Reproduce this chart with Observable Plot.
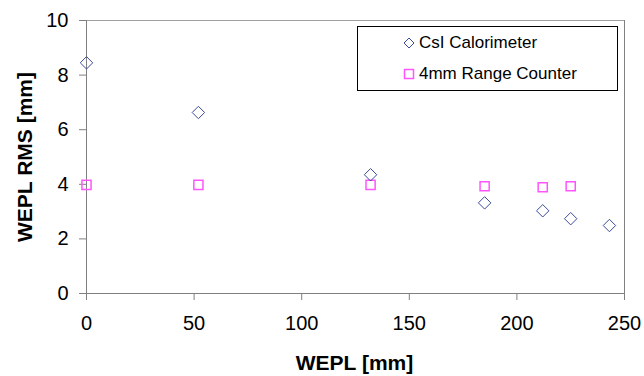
<!DOCTYPE html>
<html>
<head>
<meta charset="utf-8">
<script src="https://cdn.jsdelivr.net/npm/d3@7"></script>
<script src="https://cdn.jsdelivr.net/npm/@observablehq/plot@0.6"></script>
<style>
body { margin: 0; background: #fff; }
#wrap { position: relative; width: 644px; height: 376px; font-family: "Liberation Sans", Arial, sans-serif; }
#legend { position: absolute; left: 357px; top: 26px; width: 259px; height: 63px; border: 1px solid #000; background: #fff; }
.entry { position: absolute; left: 45px; font-size: 17px; line-height: 20px; display: flex; align-items: center; }
.entry svg { margin-right: 4px; }
</style>
</head>
<body>
<div id="wrap"></div>
<script>
const xTicks = [0, 50, 100, 150, 200, 250];
const yTicks = [0, 2, 4, 6, 8, 10];
const seriesNames = ["CsI Calorimeter", "4mm Range Counter"];
const weplCsI = [0, 52, 132, 185, 212, 225, 243];
const rmsCsI = [8.45, 6.63, 4.35, 3.32, 3.03, 2.74, 2.49];
const weplRC = [0, 52, 132, 185, 212, 225];
const rmsRC = [3.98, 3.98, 3.98, 3.93, 3.89, 3.93];

const csi = weplCsI.map((x, i) => ({x, y: rmsCsI[i]}));
const rc = weplRC.map((x, i) => ({x, y: rmsRC[i]}));

const blue = "#3a4a9c";
const pink = "#ff55ff";
const gray = "#808080";

const chart = Plot.plot({
  width: 644, height: 376,
  marginLeft: 86, marginRight: 20, marginTop: 20, marginBottom: 83,
  style: {fontFamily: "'Liberation Sans', Arial, sans-serif", background: "white", color: "black"},
  x: {domain: [0, 250]},
  y: {domain: [0, 10]},
  marks: [
    Plot.ruleY([10], {stroke: "#a0a0a0"}),
    Plot.ruleX([250], {stroke: gray}),
    Plot.axisX({ticks: xTicks, tickSize: 7, text: null, stroke: gray, label: null}),
    Plot.axisX({ticks: xTicks, tickSize: 0, tickPadding: 22, fontSize: 20, label: null}),
    Plot.axisY({ticks: yTicks, tickSize: 7, text: null, stroke: gray, label: null}),
    Plot.axisY({ticks: yTicks, tickSize: 0, tickPadding: 18, fontSize: 20, label: null}),
    Plot.ruleX([0], {stroke: gray}),
    Plot.ruleY([0], {stroke: gray}),
    Plot.dot(rc, {x: "x", y: "y", symbol: "square2", r: 5.8, stroke: pink, strokeWidth: 1.5}),
    Plot.dot(csi, {x: "x", y: "y", symbol: "diamond2", r: 5.6, stroke: blue, strokeWidth: 1}),
    Plot.text(["WEPL [mm]"], {frameAnchor: "bottom", dy: 70, dx: -1, lineAnchor: "middle", textAnchor: "middle", fontSize: 21, fontWeight: "bold"}),
    Plot.text(["WEPL RMS [mm]"], {frameAnchor: "left", dx: -61, rotate: -90, lineAnchor: "middle", textAnchor: "middle", fontSize: 21, fontWeight: "bold"})
  ]
});
const wrap = document.getElementById("wrap");
wrap.appendChild(chart);

const legend = document.createElement("div");
legend.id = "legend";
legend.innerHTML = `
<div class="entry" style="top:6px"><svg width="12" height="12" viewBox="-6 -6 12 12"><path d="M0,-5L5,0L0,5L-5,0Z" fill="none" stroke="${blue}" stroke-width="1"/></svg>${seriesNames[0]}</div>
<div class="entry" style="top:37px"><svg width="12" height="12" viewBox="-6 -6 12 12"><rect x="-4.5" y="-4.5" width="9" height="9" fill="none" stroke="${pink}" stroke-width="1.5"/></svg>${seriesNames[1]}</div>`;
wrap.appendChild(legend);
</script>
</body>
</html>
